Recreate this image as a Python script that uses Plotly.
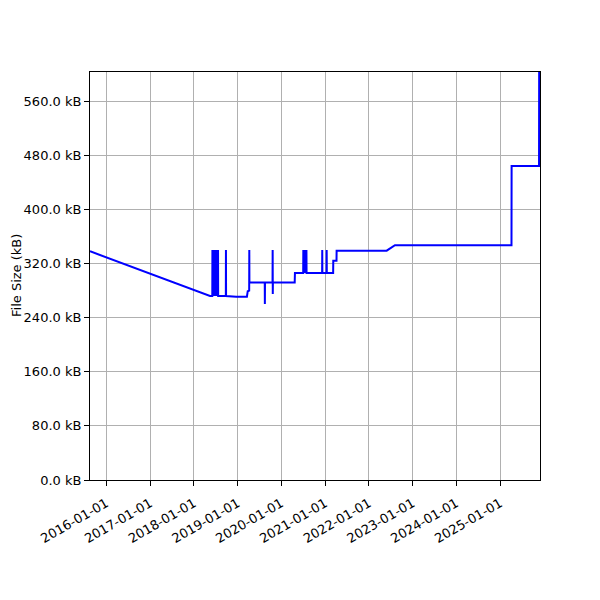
import plotly.graph_objects as go

dates = [
    "2015-08-18", "2018-05-16",
    "2018-06-04", "2018-06-05", "2018-06-06", "2018-06-12", "2018-06-13",
    "2018-06-20", "2018-06-21", "2018-06-28", "2018-06-29", "2018-07-08",
    "2018-07-10", "2018-07-22", "2018-07-23",
    "2018-09-25", "2018-09-26", "2018-09-27",
    "2018-12-20", "2019-03-20",
    "2019-03-27", "2019-04-08", "2019-04-09", "2019-04-10",
    "2019-08-16", "2019-08-17", "2019-08-18",
    "2019-10-20", "2019-10-21", "2019-10-22", "2019-10-23",
    "2020-04-22", "2020-04-24",
    "2020-07-02", "2020-07-03", "2020-07-04", "2020-07-15", "2020-07-16",
    "2020-07-29", "2020-07-30",
    "2020-12-07", "2020-12-08", "2020-12-09",
    "2021-01-13", "2021-01-14", "2021-01-15",
    "2021-03-09", "2021-03-10", "2021-04-06", "2021-04-07",
    "2022-05-30", "2022-08-07",
    "2025-04-06", "2025-04-07",
    "2025-11-22", "2025-11-23",
]
sizes_kb = [
    338, 272,
    272, 340, 272, 340, 272,
    340, 272, 340, 272, 340,
    272, 340, 272,
    272, 340, 272,
    271, 271,
    279, 280, 340, 292,
    292, 260, 292,
    292, 340, 275, 292,
    292, 306,
    306, 340, 306, 340, 306,
    340, 306,
    306, 340, 306,
    306, 340, 306,
    306, 324, 324, 339,
    339, 347,
    347, 464,
    464, 603,
]
year_ticks = [f"{y}-01-01" for y in range(2016, 2026)]
y_ticks = [0, 80, 160, 240, 320, 400, 480, 560]

fig = go.Figure()
fig.add_trace(go.Scatter(x=dates, y=sizes_kb, mode="lines",
                         line=dict(color="#0000ff", width=2), showlegend=False))

font = dict(family="DejaVu Sans", size=13, color="black")
fig.update_layout(
    width=600, height=600,
    margin=dict(l=82, r=68, t=64, b=128),
    paper_bgcolor="white", plot_bgcolor="white",
    font=font,
)
fig.update_xaxes(
    type="date", range=["2015-08-18", "2025-11-30"], automargin=False,
    tickvals=year_ticks, ticktext=year_ticks, tickangle=-30,
    ticklabelstandoff=5,
    showgrid=True, gridcolor="#b0b0b0", gridwidth=0.8,
    showline=True, linecolor="black", linewidth=1, mirror=True,
    ticks="outside", ticklen=5, tickcolor="black", tickfont=font,
    zeroline=False,
)
fig.update_yaxes(
    range=[0, 603], automargin=False,
    tickvals=y_ticks, ticktext=[f"{v:.1f} kB" for v in y_ticks],
    showgrid=True, gridcolor="#b0b0b0", gridwidth=0.8,
    showline=True, linecolor="black", linewidth=1, mirror=True,
    ticks="outside", ticklen=5, tickcolor="black", tickfont=font,
    zeroline=False,
)
fig.add_annotation(
    text="File Size (kB)", xref="paper", yref="paper", x=0, y=0.5,
    xshift=-74, xanchor="center", yanchor="middle", textangle=-90,
    showarrow=False, font=font,
)
fig.write_html("out.html")
